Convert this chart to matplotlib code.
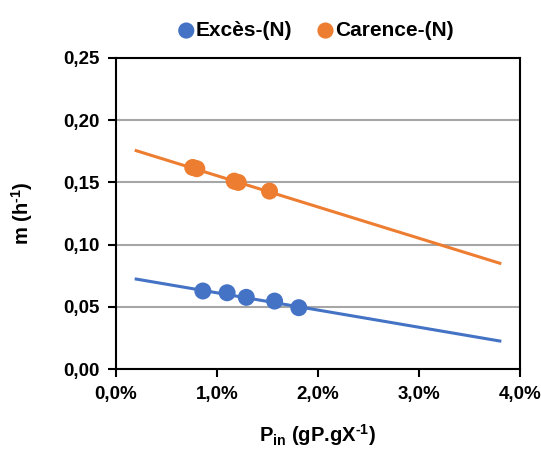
import matplotlib
matplotlib.use("Agg")
import matplotlib.pyplot as plt
from matplotlib.ticker import FuncFormatter

plt.rcParams['font.family'] = ['Liberation Sans', 'DejaVu Sans']
plt.rcParams['font.weight'] = 'bold'
plt.rcParams['mathtext.fontset'] = 'custom'
plt.rcParams['mathtext.rm'] = 'Liberation Sans:bold'
plt.rcParams['mathtext.it'] = 'Liberation Sans:bold'
plt.rcParams['mathtext.bf'] = 'Liberation Sans:bold'

# Data (P_in in %, m in h^-1)
exces_x = [0.86, 1.10, 1.29, 1.57, 1.81]
exces_y = [0.0627, 0.0613, 0.0576, 0.0546, 0.0493]
carence_x = [0.76, 0.80, 1.17, 1.21, 1.52]
carence_y = [0.162, 0.161, 0.151, 0.150, 0.143]

# Trend lines (endpoints)
trend_x = [0.2, 3.8]
exces_trend_y = [0.0723, 0.0225]
carence_trend_y = [0.1755, 0.0850]

x_ticks = [0.0, 1.0, 2.0, 3.0, 4.0]
y_ticks = [0.00, 0.05, 0.10, 0.15, 0.20, 0.25]

blue = '#4472C4'
orange = '#ED7D31'

fig = plt.figure(figsize=(5.41, 4.53), dpi=100)
ax = fig.add_axes([0.2144, 0.1854, 0.7468, 0.6866])

ax.plot(trend_x, exces_trend_y, color=blue, lw=2.2, zorder=2)
ax.plot(trend_x, carence_trend_y, color=orange, lw=2.2, zorder=2)
ax.scatter(exces_x, exces_y, s=150, color=blue, zorder=3, label='Excès-(N)', edgecolors='none')
ax.scatter(carence_x, carence_y, s=150, color=orange, zorder=3, label='Carence-(N)', edgecolors='none')

ax.set_xlim(0, 4.0)
ax.set_ylim(0, 0.25)
ax.set_xticks(x_ticks)
ax.set_yticks(y_ticks)
ax.xaxis.set_major_formatter(FuncFormatter(lambda v, p: f"{v:.1f}%".replace('.', ',')))
ax.yaxis.set_major_formatter(FuncFormatter(lambda v, p: f"{v:.2f}".replace('.', ',')))
ax.tick_params(axis='both', labelsize=13.5, direction='out', length=6, width=1.5, color='black', pad=6)
for lbl in ax.get_xticklabels() + ax.get_yticklabels():
    lbl.set_fontweight('bold')

ax.grid(axis='y', color='#A6A6A6', lw=1.5)
ax.set_axisbelow(True)
for sp in ax.spines.values():
    sp.set_color('black')
    sp.set_linewidth(1.5)

ax.set_xlabel("$\\mathrm{P_{in}}$ (gP.gX$^{\u2010 1}$)", fontsize=14.5, fontweight='bold', labelpad=14)
ax.set_ylabel("m (h$^{\u2010 1}$)", fontsize=14.5, fontweight='bold', labelpad=20)

leg = fig.legend(loc='upper center', bbox_to_anchor=(0.572, 0.995), ncol=2, frameon=False,
                 handletextpad=-0.55, columnspacing=0.6, markerscale=0.95,
                 prop={'weight': 'bold', 'size': 15})

fig.savefig('out.png', dpi=100)
